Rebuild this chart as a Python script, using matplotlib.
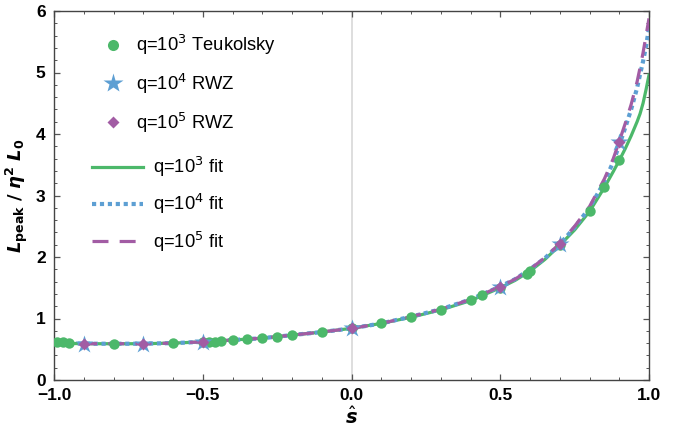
import matplotlib
matplotlib.use("Agg")
import matplotlib.pyplot as plt
from matplotlib.lines import Line2D
from matplotlib.ticker import MultipleLocator

# ---- data ----
teuk_s = [-0.99, -0.97, -0.95, -0.8, -0.6, -0.5, -0.48, -0.46, -0.44, -0.4, -0.35, -0.3,
          -0.25, -0.2, -0.1, 0.0, 0.1, 0.2, 0.3, 0.4, 0.44, 0.5, 0.59, 0.6, 0.7, 0.8,
          0.85, 0.9]
teuk_L = [0.61, 0.61, 0.60, 0.58, 0.60, 0.61, 0.62, 0.62, 0.63, 0.65, 0.66, 0.68,
          0.70, 0.73, 0.78, 0.84, 0.92, 1.03, 1.14, 1.30, 1.38, 1.50, 1.73, 1.78, 2.19, 2.74,
          3.14, 3.57]

rwz4_s = [-0.9, -0.7, -0.5, 0.0, 0.5, 0.7, 0.9]
rwz4_L = [0.59, 0.59, 0.61, 0.84, 1.52, 2.21, 3.87]
rwz5_s = [-0.9, -0.7, -0.5, 0.0, 0.5, 0.7, 0.9]
rwz5_L = [0.59, 0.59, 0.61, 0.84, 1.52, 2.21, 3.87]

fit_s = [-1.0, -0.9, -0.8, -0.7, -0.6, -0.5, -0.4, -0.3, -0.2, -0.1, 0.0, 0.1, 0.2,
         0.3, 0.4, 0.5, 0.55, 0.6, 0.65, 0.7, 0.75, 0.8, 0.85, 0.88, 0.9, 0.92, 0.94,
         0.96, 0.97, 0.98, 0.99, 1.0]
fit3_L = [0.60, 0.59, 0.59, 0.59, 0.60, 0.62, 0.65, 0.68, 0.73, 0.78, 0.84, 0.92, 1.02,
          1.14, 1.29, 1.50, 1.62, 1.77, 1.96, 2.19, 2.44, 2.74, 3.13, 3.39, 3.57, 3.76, 3.97,
          4.20, 4.33, 4.50, 4.72, 4.96]
fit4_L = [0.60, 0.59, 0.59, 0.59, 0.60, 0.62, 0.65, 0.68, 0.73, 0.78, 0.84, 0.92, 1.03,
          1.15, 1.31, 1.52, 1.64, 1.80, 1.98, 2.21, 2.48, 2.80, 3.22, 3.55, 3.82, 4.10, 4.40,
          4.75, 4.97, 5.18, 5.43, 5.72]
fit5_L = [0.60, 0.59, 0.59, 0.59, 0.60, 0.62, 0.65, 0.68, 0.73, 0.78, 0.84, 0.92, 1.03,
          1.15, 1.31, 1.52, 1.64, 1.80, 1.99, 2.22, 2.50, 2.82, 3.27, 3.60, 3.88, 4.17, 4.48,
          4.85, 5.08, 5.32, 5.60, 5.88]

xtick_vals = [-1.0, -0.5, 0.0, 0.5, 1.0]
xtick_labels = ['\u22121.0', '\u22120.5', '0.0', '0.5', '1.0']

GREEN = '#4cb86a'
BLUE = '#5d9fd3'
PURPLE = '#a25ca4'

plt.rcParams['font.family'] = ['Liberation Sans', 'DejaVu Sans']
plt.rcParams['mathtext.fontset'] = 'dejavusans'

fig = plt.figure(figsize=(6.82, 4.38), dpi=100)
ax = fig.add_axes([54 / 682, 58 / 438, 595 / 682, 369 / 438])

ax.axvline(0, color='#d8d8d8', lw=1.2, zorder=0)

ax.plot(fit_s, fit3_L, color=GREEN, lw=2.3, zorder=2)
ax.plot(fit_s, fit4_L, color=BLUE, lw=3.0, ls=(0, (1, 0.9)), zorder=3)
ax.plot(fit_s, fit5_L, color=PURPLE, lw=2.3, ls=(0, (5, 3.5)), zorder=4)

ax.plot(teuk_s, teuk_L, 'o', color=GREEN, ms=7.5, mec='none', zorder=5)
ax.plot(rwz4_s, rwz4_L, '*', color=BLUE, ms=13.5, mec='none', zorder=6)
ax.plot(rwz5_s, rwz5_L, 'D', color=PURPLE, ms=6.5, mec='none', zorder=7)

ax.set_xlim(-1, 1)
ax.set_ylim(0, 6)
ax.xaxis.set_minor_locator(MultipleLocator(0.1))
ax.yaxis.set_major_locator(MultipleLocator(1))
ax.yaxis.set_minor_locator(MultipleLocator(0.2))
ax.set_xticks(xtick_vals)
ax.set_xticklabels(xtick_labels, fontweight='bold')
ax.tick_params(which='both', direction='in', top=True, right=True, color='#555555')
ax.tick_params(which='major', length=4, width=0.9, labelsize=12.5, pad=6)
ax.tick_params(which='minor', length=2.5, width=0.7)
for lab in ax.get_yticklabels():
    lab.set_fontweight('bold')
for sp in ax.spines.values():
    sp.set_color('#444444')
    sp.set_linewidth(1.0)

ax.set_xlabel(r'$\hat{\mathbfit{s}}$', fontsize=14, labelpad=2)
ax.set_ylabel(r'$\mathbfit{L}_{\mathbf{peak}}\ \mathbf{/}\ \mathbfit{\eta}^{\mathbf{2}}\ \mathbfit{L}_{\mathbf{0}}$',
              fontsize=13, labelpad=4)

mark_handles = [
    Line2D([], [], ls='none', marker='o', color=GREEN, ms=8, mec='none'),
    Line2D([], [], ls='none', marker='*', color=BLUE, ms=15, mec='none'),
    Line2D([], [], ls='none', marker='D', color=PURPLE, ms=6, mec='none'),
]
mark_labels = [r'q=10$^3$ Teukolsky', r'q=10$^4$ RWZ', r'q=10$^5$ RWZ']
line_handles = [
    Line2D([], [], color=GREEN, lw=2.3),
    Line2D([], [], color=BLUE, lw=3.0, ls=(0, (1, 0.9))),
    Line2D([], [], color=PURPLE, lw=2.3, ls=(0, (5, 3.5))),
]
line_labels = [r'q=10$^3$ fit', r'q=10$^4$ fit', r'q=10$^5$ fit']

leg1 = fig.legend(mark_handles, mark_labels, loc='upper left',
                  bbox_to_anchor=(99 / 682, (438 - 33) / 438), frameon=False,
                  fontsize=13.2, labelspacing=0.80, handlelength=1.53, handletextpad=0.48,
                  borderpad=0, borderaxespad=0)
leg2 = fig.legend(line_handles, line_labels, loc='upper left',
                  bbox_to_anchor=(92 / 682, (438 - 155) / 438), frameon=False,
                  fontsize=13.2, labelspacing=0.72, handlelength=2.79, handletextpad=0.55,
                  borderpad=0, borderaxespad=0)

fig.savefig('out.png', dpi=100)
